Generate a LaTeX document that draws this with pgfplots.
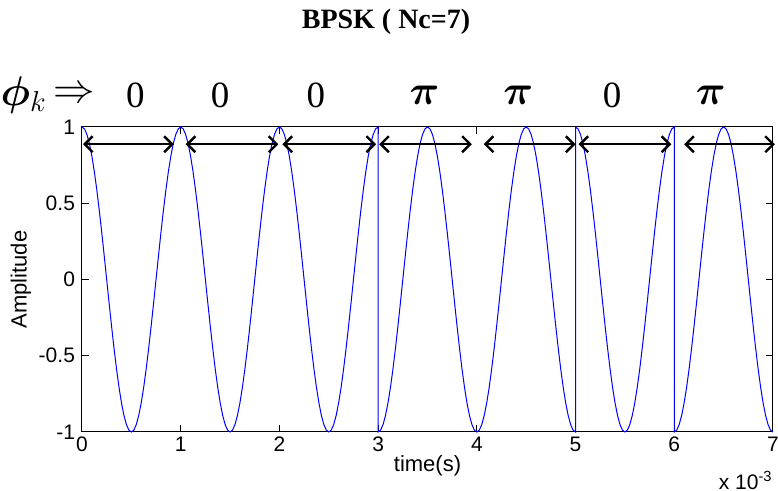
\documentclass[border=0pt]{standalone}
\usepackage{fontspec}
\setmainfont{Liberation Serif}
\setsansfont{Liberation Sans}
\usepackage{amsmath,bm}
\usepackage{pgfplots}
\pgfplotsset{compat=1.18}
\usetikzlibrary{arrows.meta}

\definecolor{sigblue}{RGB}{0,0,255}

\begin{document}
\begin{tikzpicture}
\useasboundingbox (-41pt,-29.5pt) rectangle (348pt,216pt);
\begin{axis}[
  at={(0,0)}, anchor=south west,
  scale only axis, width=345.5pt, height=152.5pt,
  xmin=0, xmax=7, ymin=-1, ymax=1,
  xtick={0,1,2,3,4,5,6,7},
  ytick={-1,-0.5,0,0.5,1},
  tick align=inside,
  major tick length=3.5pt,
  axis line style={line width=0.5pt},
  tick style={black, line width=0.5pt},
  /pgf/number format/assume math mode=true,
  ticklabel style={font=\sffamily\fontsize{10.5}{12}\selectfont},
  xticklabel style={yshift=1pt},
  xlabel={time(s)}, ylabel={Amplitude},
  label style={font=\sffamily\fontsize{11}{13}\selectfont},
  xlabel style={at={([yshift=-17pt]rel axis cs:0.5,0)}, anchor=center},
  ylabel style={at={([xshift=-30.5pt]rel axis cs:0,0.5)}, anchor=center},
  clip=false,
]
% BPSK waveform, one carrier cycle per chip, phases 0 0 0 pi pi 0 pi
\addplot[sigblue, line width=0.5pt] coordinates {
(0,1) (0.025,0.9877) (0.05,0.9511) (0.075,0.891) (0.1,0.809) (0.125,0.7071) (0.15,0.5878) (0.175,0.454) (0.2,0.309) (0.225,0.1564)
(0.25,0) (0.275,-0.1564) (0.3,-0.309) (0.325,-0.454) (0.35,-0.5878) (0.375,-0.7071) (0.4,-0.809) (0.425,-0.891) (0.45,-0.9511) (0.475,-0.9877)
(0.5,-1) (0.525,-0.9877) (0.55,-0.9511) (0.575,-0.891) (0.6,-0.809) (0.625,-0.7071) (0.65,-0.5878) (0.675,-0.454) (0.7,-0.309) (0.725,-0.1564)
(0.75,0) (0.775,0.1564) (0.8,0.309) (0.825,0.454) (0.85,0.5878) (0.875,0.7071) (0.9,0.809) (0.925,0.891) (0.95,0.9511) (0.975,0.9877)
(1,1) (1.025,0.9877) (1.05,0.9511) (1.075,0.891) (1.1,0.809) (1.125,0.7071) (1.15,0.5878) (1.175,0.454) (1.2,0.309) (1.225,0.1564)
(1.25,0) (1.275,-0.1564) (1.3,-0.309) (1.325,-0.454) (1.35,-0.5878) (1.375,-0.7071) (1.4,-0.809) (1.425,-0.891) (1.45,-0.9511) (1.475,-0.9877)
(1.5,-1) (1.525,-0.9877) (1.55,-0.9511) (1.575,-0.891) (1.6,-0.809) (1.625,-0.7071) (1.65,-0.5878) (1.675,-0.454) (1.7,-0.309) (1.725,-0.1564)
(1.75,0) (1.775,0.1564) (1.8,0.309) (1.825,0.454) (1.85,0.5878) (1.875,0.7071) (1.9,0.809) (1.925,0.891) (1.95,0.9511) (1.975,0.9877)
(2,1) (2.025,0.9877) (2.05,0.9511) (2.075,0.891) (2.1,0.809) (2.125,0.7071) (2.15,0.5878) (2.175,0.454) (2.2,0.309) (2.225,0.1564)
(2.25,0) (2.275,-0.1564) (2.3,-0.309) (2.325,-0.454) (2.35,-0.5878) (2.375,-0.7071) (2.4,-0.809) (2.425,-0.891) (2.45,-0.9511) (2.475,-0.9877)
(2.5,-1) (2.525,-0.9877) (2.55,-0.9511) (2.575,-0.891) (2.6,-0.809) (2.625,-0.7071) (2.65,-0.5878) (2.675,-0.454) (2.7,-0.309) (2.725,-0.1564)
(2.75,0) (2.775,0.1564) (2.8,0.309) (2.825,0.454) (2.85,0.5878) (2.875,0.7071) (2.9,0.809) (2.925,0.891) (2.95,0.9511) (2.975,0.9877)
(3,1) (3,-1) (3.025,-0.9877) (3.05,-0.9511) (3.075,-0.891) (3.1,-0.809) (3.125,-0.7071) (3.15,-0.5878) (3.175,-0.454) (3.2,-0.309) (3.225,-0.1564)
(3.25,0) (3.275,0.1564) (3.3,0.309) (3.325,0.454) (3.35,0.5878) (3.375,0.7071) (3.4,0.809) (3.425,0.891) (3.45,0.9511) (3.475,0.9877)
(3.5,1) (3.525,0.9877) (3.55,0.9511) (3.575,0.891) (3.6,0.809) (3.625,0.7071) (3.65,0.5878) (3.675,0.454) (3.7,0.309) (3.725,0.1564)
(3.75,0) (3.775,-0.1564) (3.8,-0.309) (3.825,-0.454) (3.85,-0.5878) (3.875,-0.7071) (3.9,-0.809) (3.925,-0.891) (3.95,-0.9511) (3.975,-0.9877)
(4,-1) (4.025,-0.9877) (4.05,-0.9511) (4.075,-0.891) (4.1,-0.809) (4.125,-0.7071) (4.15,-0.5878) (4.175,-0.454) (4.2,-0.309) (4.225,-0.1564)
(4.25,0) (4.275,0.1564) (4.3,0.309) (4.325,0.454) (4.35,0.5878) (4.375,0.7071) (4.4,0.809) (4.425,0.891) (4.45,0.9511) (4.475,0.9877)
(4.5,1) (4.525,0.9877) (4.55,0.9511) (4.575,0.891) (4.6,0.809) (4.625,0.7071) (4.65,0.5878) (4.675,0.454) (4.7,0.309) (4.725,0.1564)
(4.75,0) (4.775,-0.1564) (4.8,-0.309) (4.825,-0.454) (4.85,-0.5878) (4.875,-0.7071) (4.9,-0.809) (4.925,-0.891) (4.95,-0.9511) (4.975,-0.9877)
(5,-1) (5,1) (5.025,0.9877) (5.05,0.9511) (5.075,0.891) (5.1,0.809) (5.125,0.7071) (5.15,0.5878) (5.175,0.454) (5.2,0.309) (5.225,0.1564)
(5.25,0) (5.275,-0.1564) (5.3,-0.309) (5.325,-0.454) (5.35,-0.5878) (5.375,-0.7071) (5.4,-0.809) (5.425,-0.891) (5.45,-0.9511) (5.475,-0.9877)
(5.5,-1) (5.525,-0.9877) (5.55,-0.9511) (5.575,-0.891) (5.6,-0.809) (5.625,-0.7071) (5.65,-0.5878) (5.675,-0.454) (5.7,-0.309) (5.725,-0.1564)
(5.75,0) (5.775,0.1564) (5.8,0.309) (5.825,0.454) (5.85,0.5878) (5.875,0.7071) (5.9,0.809) (5.925,0.891) (5.95,0.9511) (5.975,0.9877)
(6,1) (6,-1) (6.025,-0.9877) (6.05,-0.9511) (6.075,-0.891) (6.1,-0.809) (6.125,-0.7071) (6.15,-0.5878) (6.175,-0.454) (6.2,-0.309) (6.225,-0.1564)
(6.25,0) (6.275,0.1564) (6.3,0.309) (6.325,0.454) (6.35,0.5878) (6.375,0.7071) (6.4,0.809) (6.425,0.891) (6.45,0.9511) (6.475,0.9877)
(6.5,1) (6.525,0.9877) (6.55,0.9511) (6.575,0.891) (6.6,0.809) (6.625,0.7071) (6.65,0.5878) (6.675,0.454) (6.7,0.309) (6.725,0.1564)
(6.75,0) (6.775,-0.1564) (6.8,-0.309) (6.825,-0.454) (6.85,-0.5878) (6.875,-0.7071) (6.9,-0.809) (6.925,-0.891) (6.95,-0.9511) (6.975,-0.9877)
(7,-1)
};
% chip duration markers
\pgfplotsset{chiparrow/.style={black, line width=1.2pt,
  {Straight Barb[length=4pt,width=8pt]}-{Straight Barb[length=4pt,width=8pt]}}}
\addplot[chiparrow] coordinates {(0.01,0.887) (0.93,0.887)};
\addplot[chiparrow] coordinates {(1.05,0.887) (1.99,0.887)};
\addplot[chiparrow] coordinates {(2.03,0.887) (2.98,0.887)};
\addplot[chiparrow] coordinates {(3.01,0.887) (3.95,0.887)};
\addplot[chiparrow] coordinates {(4.07,0.887) (5.00,0.887)};
\addplot[chiparrow] coordinates {(5.03,0.887) (5.97,0.887)};
\addplot[chiparrow] coordinates {(6.10,0.887) (7.02,0.887)};
% phase sequence
\begin{scope}[every node/.style={anchor=center, inner sep=0pt}]
\node at (axis cs:-0.59,1.21) {\fontsize{20}{22}\selectfont$\bm{\phi}_{k}$};
\node at (axis cs:-0.08,1.21) {\fontsize{21}{22}\selectfont$\Rightarrow$};
\node at (axis cs:0.54,1.21) {\fontsize{18.5}{20}\selectfont 0};
\node at (axis cs:1.40,1.21) {\fontsize{18.5}{20}\selectfont 0};
\node at (axis cs:2.37,1.21) {\fontsize{18.5}{20}\selectfont 0};
\node at (axis cs:3.47,1.21) {\fontsize{20}{22}\selectfont$\bm{\pi}$};
\node at (axis cs:4.42,1.21) {\fontsize{20}{22}\selectfont$\bm{\pi}$};
\node at (axis cs:5.37,1.21) {\fontsize{18.5}{20}\selectfont 0};
\node at (axis cs:6.37,1.21) {\fontsize{20}{22}\selectfont$\bm{\pi}$};
\node at (axis cs:3.08,1.69) {\fontsize{14}{16}\selectfont\bfseries BPSK ( Nc=7)};
\end{scope}
\node[anchor=south east, inner sep=0pt, font=\sffamily\fontsize{10.5}{12}\selectfont]
  at ([yshift=-29pt]rel axis cs:1,0) {x 10\textsuperscript{-3}};
\end{axis}
\end{tikzpicture}
\end{document}
